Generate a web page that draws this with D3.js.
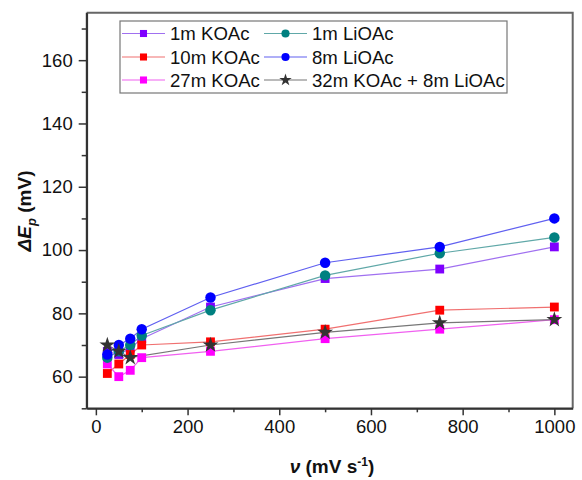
<!DOCTYPE html>
<html>
<head>
<meta charset="utf-8">
<script src="https://cdn.jsdelivr.net/npm/d3@7/dist/d3.min.js"></script>
<style>
  html, body { margin: 0; padding: 0; background: #fff; }
  svg { display: block; font-family: "Liberation Sans", Arial, sans-serif; }
</style>
</head>
<body>
<svg id="chart" width="582" height="480"></svg>
<script>
// Scan rates (mV s^-1)
const scanRates = [25, 50, 75, 100, 250, 500, 750, 1000];

// Peak separation ΔEp (mV) for each electrolyte (null = not measured)
const koac1m   = [68, 67, 69, 72, 82, 91, 94, 101];
const koac10m  = [61, 64, 67, 70, 71, 75, 81, 82];
const koac27m  = [64, 60, 62, 66, 68, 72, 75, 78];
const lioac1m  = [66, 68, 70, 73, 81, 92, 99, 104];
const lioac8m  = [67, 70, 72, 75, 85, 96, 101, 110];
const mixed    = [70, 68, 66, null, 70, 74, 77, 78];

const seriesNames = ["1m KOAc", "10m KOAc", "27m KOAc", "1m LiOAc", "8m LiOAc", "32m KOAc + 8m LiOAc"];
const seriesValues = [koac1m, koac10m, koac27m, lioac1m, lioac8m, mixed];
const seriesColors = ["#7f00ff", "#ff0000", "#ff00ff", "#008080", "#0000ff", "#333333"];
const lineColors   = ["#a070f0", "#f07070", "#f060f0", "#60a8a8", "#6060f0", "#777777"];
const seriesShapes = ["square", "square", "square", "circle", "circle", "star"];

const xTicks = [0, 200, 400, 600, 800, 1000];
const xMinor = [100, 300, 500, 700, 900];
const yTicks = [60, 80, 100, 120, 140, 160];
const yMinor = [50, 70, 90, 110, 130, 150, 170];

const svg = d3.select("#chart");
const plotL = 86.7, plotR = 572.7, plotT = 12.7, plotB = 408.3;

const x = d3.scaleLinear().domain([-20, 1040]).range([plotL, plotR]);
const y = d3.scaleLinear().domain([50, 175]).range([plotB, plotT]);

function symbolPath(shape, big) {
  if (shape === "square") return d3.symbol(d3.symbolSquare, big ? 78 : 50)();
  if (shape === "circle") return d3.symbol(d3.symbolCircle, big ? 86 : 52)();
  return d3.symbol(d3.symbolStar, big ? 78 : 48)();
}

// Frame (top and right edges)
svg.append("path")
  .attr("d", `M${plotL},${plotT}H${plotR}V${plotB}`)
  .attr("fill", "none").attr("stroke", "#666").attr("stroke-width", 2);

// Axes
const axisColor = "#333";
const fmt = d3.format("d");
const gx = svg.append("g").attr("transform", `translate(0,${plotB})`)
  .call(d3.axisBottom(x).tickValues(xTicks).tickFormat(fmt).tickSize(7).tickPadding(5).tickSizeOuter(0));
const gxm = svg.append("g").attr("transform", `translate(0,${plotB})`)
  .call(d3.axisBottom(x).tickValues(xMinor).tickSize(4).tickFormat("").tickSizeOuter(0));
const gy = svg.append("g").attr("transform", `translate(${plotL},0)`)
  .call(d3.axisLeft(y).tickValues(yTicks).tickFormat(fmt).tickSize(8).tickPadding(6).tickSizeOuter(0));
const gym = svg.append("g").attr("transform", `translate(${plotL},0)`)
  .call(d3.axisLeft(y).tickValues(yMinor).tickSize(5).tickFormat("").tickSizeOuter(0));

[gx, gxm, gy, gym].forEach(g => {
  g.select(".domain").attr("stroke", axisColor).attr("stroke-width", 1.8);
  g.selectAll(".tick line").attr("stroke", axisColor).attr("stroke-width", 1.5);
  g.selectAll(".tick text").attr("fill", "#111")
    .style("font-size", "18.5px").style("font-family", "'Liberation Sans', Arial, sans-serif");
});
gx.select(".domain").attr("d", `M${plotL},0H${plotR}`);
gy.select(".domain").attr("d", `M0,${plotB}V${plotT}`);

// Series lines and markers
const line = d3.line().x(d => x(d[0])).y(d => y(d[1]));
const seriesPoints = seriesValues.map(vals =>
  scanRates.map((r, j) => [r, vals[j]]).filter(d => d[1] != null));
seriesPoints.forEach((pts, i) => {
  svg.append("path").datum(pts)
    .attr("d", line).attr("fill", "none")
    .attr("stroke", lineColors[i]).attr("stroke-width", 1.2);
});
seriesPoints.forEach((pts, i) => {
  svg.append("g").selectAll("path").data(pts).join("path")
    .attr("d", symbolPath(seriesShapes[i], true))
    .attr("transform", d => `translate(${x(d[0])},${y(d[1])})`)
    .attr("fill", seriesColors[i]);
});

// Legend
const lg = svg.append("g");
lg.append("rect").attr("x", 120).attr("y", 21).attr("width", 387).attr("height", 72)
  .attr("fill", "#fff").attr("stroke", "#777").attr("stroke-width", 1.2);
const colX = [122, 264];
const rowY = [33.5, 57, 80];
seriesNames.forEach((name, i) => {
  const col = i < 3 ? 0 : 1;
  const row = i % 3;
  const x0 = colX[col], yy = rowY[row];
  lg.append("line").attr("x1", x0).attr("x2", x0 + 43).attr("y1", yy).attr("y2", yy)
    .attr("stroke", lineColors[i]).attr("stroke-width", 1.2);
  lg.append("path").attr("d", symbolPath(seriesShapes[i], false))
    .attr("transform", `translate(${x0 + 21.5},${yy})`).attr("fill", seriesColors[i]);
  lg.append("text").attr("x", x0 + 48).attr("y", yy + 6.5)
    .style("font-size", "18.6px").attr("fill", "#111").text(name);
});

// Axis titles
const xt = svg.append("text").attr("x", 332).attr("y", 473).attr("text-anchor", "middle")
  .style("font-size", "19px").style("font-weight", "bold").attr("fill", "#111");
xt.append("tspan").style("font-style", "italic").text("ν");
xt.append("tspan").text(" (mV s");
xt.append("tspan").attr("dy", -7).style("font-size", "12px").text("-1");
xt.append("tspan").attr("dy", 7).text(")");

const yt = svg.append("text").attr("transform", "translate(31,211) rotate(-90)")
  .attr("text-anchor", "middle")
  .style("font-size", "19px").style("font-weight", "bold").attr("fill", "#111");
yt.append("tspan").style("font-style", "italic").text("ΔE");
yt.append("tspan").attr("dy", 5).style("font-size", "13px").style("font-style", "italic").text("p");
yt.append("tspan").attr("dy", -5).text(" (mV)");
</script>
</body>
</html>
